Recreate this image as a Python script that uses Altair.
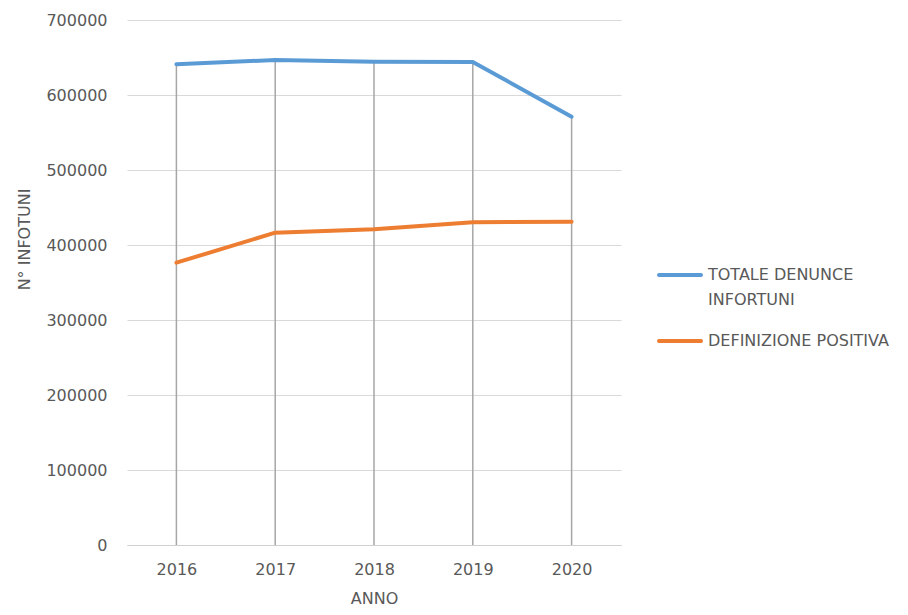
import altair as alt
import pandas as pd

years = ["2016", "2017", "2018", "2019", "2020"]
totale = [641000, 646700, 644400, 644000, 571100]
positiva = [376400, 416400, 420900, 430200, 431100]
series = ["TOTALE DENUNCE INFORTUNI", "DEFINIZIONE POSITIVA"]
legend_lines = [["TOTALE DENUNCE", "INFORTUNI"], ["DEFINIZIONE POSITIVA"]]
colors = ["#5B9BD5", "#ED7D31"]
y_ticks = [0, 100000, 200000, 300000, 400000, 500000, 600000, 700000]

df = pd.DataFrame({
    "anno": years * 2,
    "valore": totale + positiva,
    "serie": [series[0]] * len(years) + [series[1]] * len(years),
})
drop = pd.DataFrame({
    "anno": years,
    "top": [max(a, b) for a, b in zip(totale, positiva)],
    "base": [0] * len(years),
})

FONT = "DejaVu Sans"
TXT = "#595959"

x_enc = alt.X(
    "anno:O",
    scale=alt.Scale(type="point", padding=0.5),
    axis=alt.Axis(
        title="ANNO", labelAngle=0, ticks=False, grid=False,
        domainColor="#d0d0d0", domainWidth=1.2,
        labelPadding=16, titleY=53, titleBaseline="middle",
    ),
)

drops = alt.Chart(drop).mark_rule(color="#a6a6a6", strokeWidth=1.5).encode(
    x=x_enc,
    y=alt.Y("top:Q"),
    y2="base:Q",
)

lines = alt.Chart(df).mark_line(strokeWidth=4, strokeCap="round", strokeJoin="round").encode(
    x=x_enc,
    y=alt.Y(
        "valore:Q",
        scale=alt.Scale(domain=[0, 700000], nice=False),
        axis=alt.Axis(
            values=y_ticks, format="d", title="N° INFOTUNI",
            domain=False, ticks=False, labelPadding=20,
            gridColor="#d9d9d9", gridWidth=1.2,
            titleAngle=270, titleX=-103, titleY=219,
            titleAlign="center", titleBaseline="middle",
        ),
    ),
    color=alt.Color(
        "serie:N",
        scale=alt.Scale(domain=series, range=colors),
        legend=None,
    ),
)

# Legend drawn as marks (Excel-like: symbol aligned with first label line, 2-line wrap)
leg_layers = []
sym_y = [255, 321]
for i, (name, col) in enumerate(zip(series, colors)):
    ldf = pd.DataFrame({"serie": [name]})
    leg_layers.append(
        alt.Chart(ldf).mark_rule(color=col, strokeWidth=4, strokeCap="round").encode(
            x=alt.value(532), x2=alt.value(574), y=alt.value(sym_y[i])
        )
    )
    for j, txt in enumerate(legend_lines[i]):
        tdf = pd.DataFrame({"t": [txt]})
        leg_layers.append(
            alt.Chart(tdf).mark_text(
                align="left", baseline="middle", font=FONT, fontSize=16, color=TXT
            ).encode(text="t:N", x=alt.value(581), y=alt.value(sym_y[i] + 25 * j))
        )

chart = alt.layer(drops, lines, *leg_layers).properties(
    width=494, height=525,
    padding={"left": 119, "top": 12, "right": 279, "bottom": 62},
    autosize=alt.AutoSizeParams(type="none"),
).configure_view(stroke=None).configure_axis(
    labelFont=FONT, titleFont=FONT, labelColor=TXT, titleColor=TXT,
    labelFontSize=16, titleFontSize=16, titleFontWeight="normal",
)

chart.save("out.html", embed_options={"renderer": "svg", "actions": False})
